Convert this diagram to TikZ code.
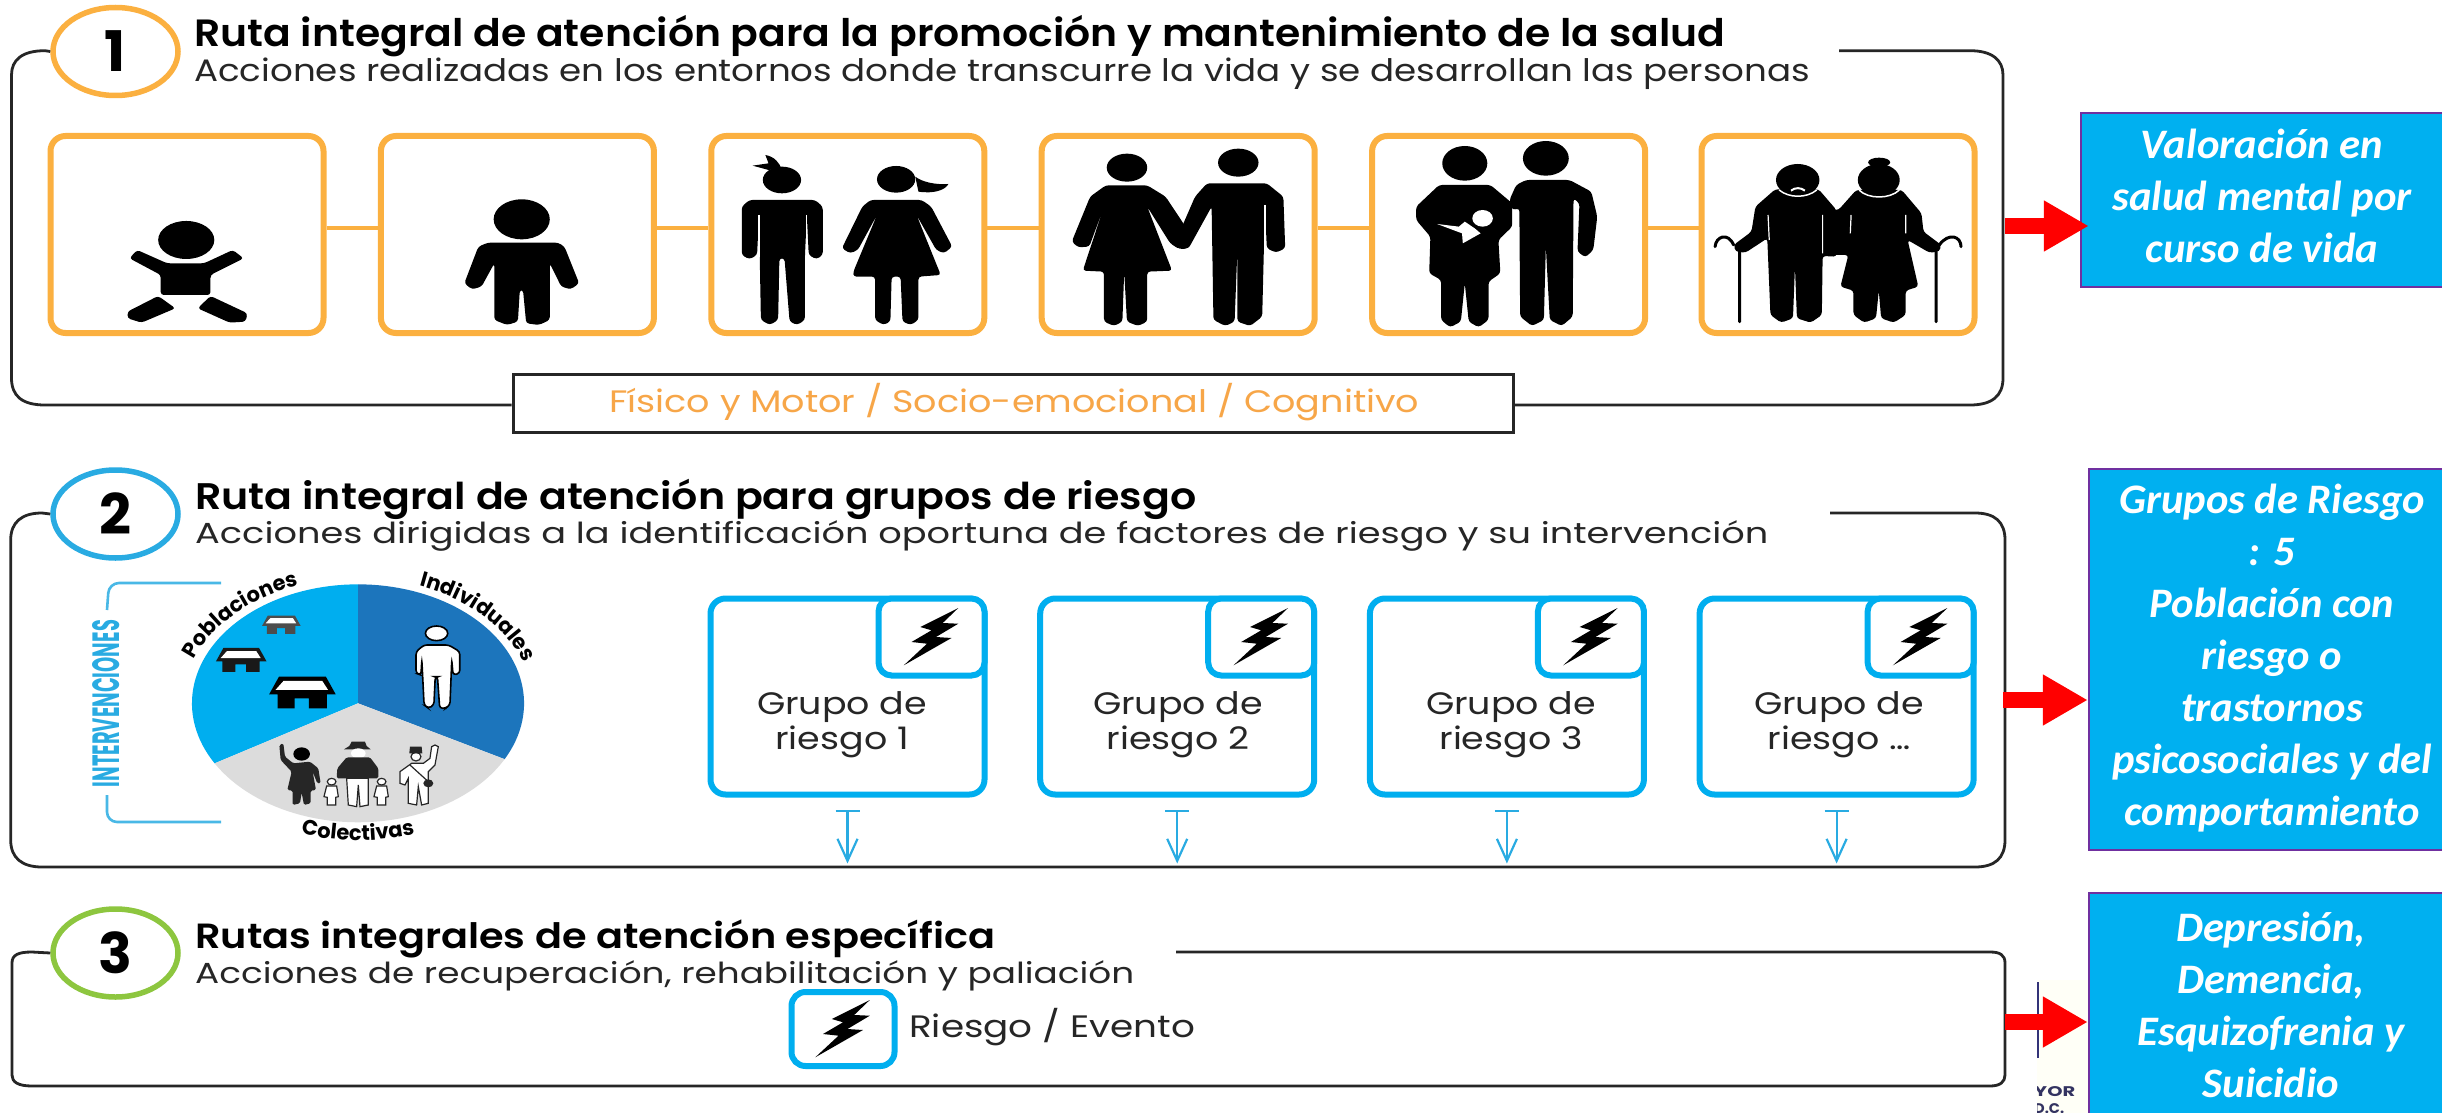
\documentclass[tikz,border=0pt]{standalone}
\usepackage{graphicx}
\usepackage{fontspec}
\setmainfont{Poppins}
\newfontfamily\medfam{Poppins SemiBold}
\newfontfamily\calfam{Carlito}
\usetikzlibrary{shapes.geometric,arrows.meta,decorations.text,calc}
\definecolor{orng}{HTML}{FBB040}
\definecolor{orngtx}{HTML}{F7A648}
\definecolor{cyanb}{HTML}{00AEEF}
\definecolor{cyanl}{HTML}{29ABE2}
\definecolor{deepb}{HTML}{1C75BC}
\definecolor{greyp}{HTML}{DCDCDC}
\definecolor{skybox}{HTML}{00B0F0}
\definecolor{purp}{HTML}{7030A0}
\definecolor{grn}{HTML}{8DC63F}
\definecolor{dk}{HTML}{262626}
\tikzset{
 frameline/.style={draw=dk,line width=2.8pt},
 numcirc/.style={shape=ellipse,draw,fill=white,line width=5.5pt,minimum width=125pt,minimum height=88pt,inner sep=0pt,font=\bfseries\fontsize{56}{60}\selectfont},
 lifebox/.style={draw=orng,fill=white,line width=6pt,rounded corners=15pt,minimum width=273pt,minimum height=197pt,inner sep=0pt},
 link/.style={draw=orng,line width=4pt},
 riskbox/.style={draw=cyanb,fill=white,line width=6pt,rounded corners=15pt,minimum width=274pt,minimum height=196pt,inner sep=0pt},
 cornerbox/.style={draw=cyanb,fill=white,line width=6pt,rounded corners=13pt,minimum width=106pt,minimum height=77pt,inner sep=0pt},
 tarrow/.style={draw=cyanl,line width=2.2pt,{Bar[width=24pt,line width=2.2pt]}-{Straight Barb[length=22pt,width=20pt,line width=2.2pt]}},
 redarrow/.style={draw=red,line width=16pt,-{Triangle[length=45pt,width=48pt]}},
 skynode/.style={draw=purp,fill=skybox,line width=2.5pt,inner sep=0pt,text=white,font=\calfam\bfseries\itshape\fontsize{42}{52}\selectfont},
 txt/.style={inner sep=0pt,anchor=base west},
 sil/.style={rounded corners=3pt},
 slit/.style={draw=white,line width=1.3pt},
 bracket/.style={draw=cyanl!85,line width=2.6pt,rounded corners=10pt},
 pielabel/.style={decorate,decoration={text along path,text align=center,text={#1}}}
}
\newcommand\fitline[6]{\node[txt,#6] (#1) at (#2,#4) {\resizebox{#3pt}{\height}{#5}};}
\newcommand\mybolt[1]{\fill[black,shift={(#1)}] (26.8,-29) -- (-11.2,-10) -- (0,-6.7) -- (-20,5) -- (-4.5,6.7) -- (-27.7,28.3) -- (20,1) -- (4.5,0) -- (26.8,-13.3) -- (11.2,-14) -- cycle;}
\newcommand\myhouse[4]{\begin{scope}[shift={(#1,#2)},scale=#3]
 \fill[#4] (-52,-45) -- (53,-45) -- (75,8) -- (-74,8) -- cycle (-55,8) -- (55,8) -- (55,50) -- (15,50) -- (15,20) -- (-17,20) -- (-17,50) -- (-55,50) -- cycle;
 \fill[white] (-42,-32) -- (45,-32) -- (58,-5) -- (-60,-5) -- cycle;
\end{scope}}
\begin{document}
\begin{tikzpicture}[x=1pt,y=-1pt]
\useasboundingbox (0,0) rectangle (2442,1113);
\fill[white] (0,0) rectangle (2442,1113);

% number circles
\node[numcirc,draw=orng] (c1) at (115.5,51.5) {1};
\node[numcirc,draw=cyanl] (c2) at (115.5,514) {2};
\node[numcirc,draw=grn] (c3) at (115.5,953) {3};

% caption box
\node[draw=dk,fill=white,line width=3pt,minimum width=1000pt,minimum height=58pt,inner sep=0pt] (phys) at (1013,403.5) {};

% frames
\coordinate (f1top) at (1839,50.7);
\coordinate (f2top) at (1830,513);
\coordinate (f3top) at (1176,952);
\draw[frameline] (c1.west) -- (45,50.7) .. controls (22,50.7) and (11.5,60) .. (11.5,75) -- (11.5,378) .. controls (11.5,396) and (22,405) .. (45,405) -- (phys.west |- 45,405);
\draw[frameline] (phys.east |- 45,405) -- (1970,405) .. controls (1992,405) and (2003,396) .. (2003,378) -- (2003,75) .. controls (2003,60) and (1992,50.7) .. (1970,50.7) -- (f1top);
\draw[frameline] (c2.west) -- (42,513) .. controls (22,513) and (10.7,522) .. (10.7,540) -- (10.7,840) .. controls (10.7,858) and (22,867) .. (42,867) -- (1975,867) .. controls (1995,867) and (2005,858) .. (2005,840) -- (2005,540) .. controls (2005,522) and (1995,513) .. (1975,513) -- (f2top);
\draw[frameline] (c3.west) -- (32,952) .. controls (18,952) and (12,955) .. (12,963) -- (12,1075) .. controls (12,1082) and (18,1086) .. (32,1086) -- (1990,1086) .. controls (2000,1086) and (2005,1082) .. (2005,1075) -- (2005,963) .. controls (2005,955) and (2000,952) .. (1990,952) -- (f3top);

% titles
\fitline{t1}{194}{1531}{47}{\medfam\fontsize{38}{40}\selectfont Ruta integral de atención para la promoción y mantenimiento de la salud}{}
\fitline{s1}{194}{1616}{82}{\fontsize{31}{34}\selectfont Acciones realizadas en los entornos donde transcurre la vida y se desarrollan las personas}{text=dk}
\fitline{t2}{195}{1001}{509}{\medfam\fontsize{37}{40}\selectfont Ruta integral de atención para grupos de riesgo}{}
\fitline{s2}{195}{1573}{543}{\fontsize{29}{34}\selectfont Acciones dirigidas a la identificación oportuna de factores de riesgo y su intervención}{text=dk}
\fitline{t3}{195}{800}{948}{\medfam\fontsize{35}{40}\selectfont Rutas integrales de atención específica}{}
\fitline{s3}{195}{939}{983}{\fontsize{29}{34}\selectfont Acciones de recuperación, rehabilitación y paliación}{text=dk}
\fitline{physt}{609}{810}{412}{\fontsize{31}{34}\selectfont Físico y Motor / Socio-emocional / Cognitivo}{text=orngtx}

% life-course boxes
\foreach \i/\cx in {1/187,2/517.4,3/847.8,4/1178.2,5/1508.6,6/1838}
  \node[lifebox] (o\i) at (\cx,234.5) {};
\foreach \a/\b in {1/2,2/3,3/4,4/5,5/6}
  \draw[link] ([yshift=6.5pt]o\a.east) -- ([yshift=6.5pt]o\b.west);

% figures, boxes 1-3
\begin{scope}[xscale=.6378,yscale=.3333]
 \fill (292,720) ellipse [x radius=44,y radius=57];
 \fill[sil] (215,750) -- (203,775) -- (252,825) -- (252,885) -- (330,885) -- (330,825) -- (382,775) -- (365,750) -- (320,790) -- (262,790) -- cycle;
 \fill[sil] (248,888) -- (275,925) -- (222,968) -- (200,955) -- (200,935) -- cycle;
 \fill[sil] (330,888) -- (388,940) -- (385,965) -- (360,968) -- (310,925) -- cycle;
 \fill (818,658) ellipse [x radius=44,y radius=60];
 \fill[sil] (765,728) -- (875,728) -- (885,740) -- (908,850) -- (895,868) -- (880,860) -- (862,790) -- (862,960) -- (845,975) -- (825,970) -- (820,870) -- (815,870) -- (812,965) -- (795,975) -- (775,960) -- (775,790) -- (755,860) -- (740,868) -- (728,850) -- (750,740) -- cycle;
 \fill (1226,540) ellipse [x radius=30,y radius=40];
 \fill (1200,465) .. controls (1215,470) and (1222,490) .. (1225,505) -- (1205,510) -- (1180,497) -- (1205,490) -- cycle;
 \fill[sil] (1175,600) -- (1278,600) -- (1290,620) -- (1290,765) -- (1280,778) -- (1268,765) -- (1265,645) -- (1262,770) -- (1262,960) -- (1250,975) -- (1238,965) -- (1230,775) -- (1222,775) -- (1220,960) -- (1207,975) -- (1193,960) -- (1190,645) -- (1187,765) -- (1175,778) -- (1163,765) -- (1163,620) -- cycle;
 \draw[slit] (1190,645) -- (1190,772) (1265,645) -- (1265,772);
 \fill (1405,538) ellipse [x radius=30,y radius=40];
 \fill (1435,530) .. controls (1445,545) and (1465,555) .. (1487,552) .. controls (1482,570) and (1465,582) .. (1440,575) -- cycle;
 \fill[sil] (1365,600) -- (1445,600) -- (1460,620) -- (1493,740) -- (1480,760) -- (1468,750) -- (1437,645) -- (1475,825) -- (1440,830) -- (1440,960) -- (1428,975) -- (1415,965) -- (1412,830) -- (1398,830) -- (1396,965) -- (1385,975) -- (1372,960) -- (1372,830) -- (1338,830) -- (1338,815) -- (1375,645) -- (1345,750) -- (1333,760) -- (1320,745) -- (1352,620) -- cycle;
\end{scope}
% couple
\begin{scope}[shift={(1000,0)},xscale=.92,yscale=.3333]
 \fill (138,503) ellipse [x radius=22,y radius=42];
 \fill[sil] (115,556) -- (160,556) -- (180,590) -- (210,715) -- (195,748) -- (185,730) -- (160,620) -- (187,812) -- (160,815) -- (160,965) -- (150,978) -- (138,965) -- (135,815) -- (133,965) -- (124,978) -- (113,965) -- (113,815) -- (90,812) -- (113,620) -- (97,740) -- (85,742) -- (78,725) -- (98,590) -- cycle;
 \fill (259,488) ellipse [x radius=22,y radius=42];
 \fill[sil] (225,550) -- (290,550) -- (308,590) -- (310,745) -- (300,758) -- (290,745) -- (288,615) -- (285,950) -- (272,978) -- (258,965) -- (258,750) -- (255,965) -- (245,978) -- (232,960) -- (230,620) -- (205,745) -- (195,748) -- (190,730) -- (212,590) -- cycle;
 \draw[slit] (288,615) -- (288,745);
\end{scope}
% family and elderly
\begin{scope}[shift={(1360,130)},xscale=.3954,yscale=.3333]
 \fill (265,100) ellipse [x radius=57,y radius=52];
 \fill[sil] (200,165) -- (330,165) -- (385,220) -- (385,290) -- (350,330) -- (355,430) -- (325,455) -- (325,570) -- (300,592) -- (275,575) -- (265,460) -- (255,575) -- (228,592) -- (205,570) -- (205,450) -- (175,430) -- (178,320) -- (142,270) -- (142,230) -- cycle;
 \fill[white] (310,265) ellipse [x radius=26,y radius=25];
 \fill[white] (195,282) -- (250,290) -- (265,275) -- (290,295) -- (305,310) -- (260,340) -- (258,310) -- cycle;
 \fill (470,85) ellipse [x radius=58,y radius=52];
 \fill[sil] (420,150) -- (530,150) -- (585,185) -- (600,260) -- (590,360) -- (570,382) -- (550,365) -- (555,220) -- (540,205) -- (538,560) -- (510,588) -- (480,570) -- (470,350) -- (465,570) -- (435,588) -- (405,560) -- (403,235) -- (385,240) -- (378,210) -- (395,165) -- cycle;
 % elderly man
 \fill[sil] (1050,178) -- (1160,178) -- (1205,240) -- (1205,380) -- (1170,378) -- (1168,555) -- (1140,578) -- (1105,565) -- (1100,410) -- (1095,565) -- (1065,578) -- (1038,555) -- (1030,325) -- (975,368) -- (950,365) -- (945,345) -- (990,305) -- (1000,230) -- cycle;
 \fill (1107,150) ellipse [x radius=55,y radius=48];
 \draw[white,line width=1.5pt] (1060,180) .. controls (1085,205) and (1130,205) .. (1155,180);
 \draw[white,line width=2pt] (1090,182) .. controls (1100,172) and (1115,172) .. (1125,182);
 \draw[white,line width=1.2pt] (1032,255) -- (1035,330) (1170,255) -- (1170,370);
 \draw[black,line width=3pt,line cap=round] (960,575) -- (960,365) (945,345) .. controls (930,305) and (900,320) .. (898,350);
 % elderly woman
 \fill[sil] (1255,180) -- (1370,180) -- (1420,250) -- (1425,305) -- (1470,345) -- (1465,365) -- (1440,368) -- (1385,330) -- (1412,470) -- (1380,482) -- (1380,555) -- (1350,578) -- (1318,565) -- (1312,482) -- (1305,565) -- (1275,578) -- (1248,555) -- (1248,482) -- (1215,470) -- (1235,375) -- (1180,375) -- (1175,240) -- (1210,240) -- cycle;
 \fill (1312,150) ellipse [x radius=53,y radius=48];
 \fill (1313,97) ellipse [x radius=28,y radius=14];
 \draw[white,line width=1.5pt] (1262,180) .. controls (1285,208) and (1340,208) .. (1364,180);
 \draw[white,line width=1.2pt] (1242,255) -- (1240,310) (1380,255) -- (1380,310);
 \draw[black,line width=3pt,line cap=round] (1457,575) -- (1457,365) (1465,345) .. controls (1490,305) and (1520,320) .. (1520,350);
\end{scope}

% pie
\begin{scope}[shift={(0,460)},xscale=.4464,yscale=.3333]
 \fill[cyanb] (802,730) -- plot[domain=149.7:270,samples=50,variable=\t] ({802+372*cos(\t)},{730+357*sin(\t)}) -- cycle;
 \fill[deepb] (802,730) -- plot[domain=270:388,samples=50,variable=\t] ({802+372*cos(\t)},{730+357*sin(\t)}) -- cycle;
 \fill[greyp] (802,730) -- plot[domain=28:149.7,samples=50,variable=\t] ({802+372*cos(\t)},{730+357*sin(\t)}) -- cycle;
 \myhouse{677}{695}{1}{black}
 \myhouse{540}{598}{.76}{black!90}
 \myhouse{630}{493}{.58}{black!70}
 \fill[white,draw=black,line width=1.6pt] (978,520) ellipse [x radius=25,y radius=22];
 \filldraw[fill=white,draw=black,line width=1.6pt,sil] (950,555) -- (1005,555) -- (1030,575) -- (1030,640) -- (1015,645) -- (1012,600) -- (1008,735) -- (998,745) -- (985,745) -- (980,650) -- (975,650) -- (972,735) -- (960,745) -- (950,735) -- (945,600) -- (943,645) -- (932,640) -- (932,575) -- cycle;
\end{scope}
\begin{scope}[shift={(190,700)},scale=.3333]
 \fill (335,162) ellipse [x radius=25,y radius=20];
 \fill[dk,rounded corners=1.5pt] (268,135) -- (280,130) -- (285,170) -- (310,190) -- (360,185) -- (385,205) -- (392,250) -- (382,250) -- (368,215) -- (378,270) -- (362,272) -- (362,310) -- (342,315) -- (335,278) -- (330,310) -- (308,315) -- (308,272) -- (292,270) -- (305,215) -- (272,180) -- cycle;
 \fill[dk] (485,125) -- (525,125) -- (530,138) -- (542,148) -- (462,148) -- (478,138) -- cycle;
 \fill[white] (505,160) ellipse [x radius=22,y radius=15];
 \fill[dk,rounded corners=1.5pt] (470,172) -- (540,172) -- (565,205) -- (565,235) -- (440,235) -- (442,205) -- cycle;
 \filldraw[fill=white,draw=dk,line width=1.2pt] (470,235) -- (535,235) -- (535,315) -- (510,320) -- (505,255) -- (500,320) -- (475,315) -- cycle;
 \foreach \kx in {0,150}{
  \filldraw[fill=white,draw=dk,line width=1.2pt,shift={(\kx,0)}] (425,245) ellipse [x radius=13,y radius=10];
  \filldraw[fill=white,draw=dk,line width=1.2pt,shift={(\kx,0)}] (410,258) -- (440,258) -- (445,290) -- (437,292) -- (437,315) -- (412,315) -- (412,292) -- (402,290) -- cycle;
 }
 \filldraw[fill=white,draw=dk,line width=1.2pt] (735,135) -- (745,140) -- (735,195) -- (715,215) -- (715,310) -- (695,315) -- (685,260) -- (680,315) -- (655,310) -- (655,235) -- (645,255) -- (630,250) -- (630,215) -- (665,190) -- (700,190) -- (720,175) -- (725,140) -- cycle;
 \filldraw[fill=white,draw=dk,line width=1.2pt] (678,170) ellipse [x radius=15,y radius=13];
 \fill[dk] (660,140) -- (695,140) -- (697,160) -- (658,160) -- cycle;
 \draw[dk,line width=1.2pt] (660,195) -- (715,245);
 \fill[dk] (715,250) ellipse [x radius=15,y radius=12];
\end{scope}
% pie labels
\path[pielabel={|\bfseries\fontsize{21}{22}\selectfont|Poblaciones}] plot[domain=190:258,samples=60,variable=\t] ({358+175*cos(\t)},{703.3+125.3*sin(\t)});
\path[pielabel={|\bfseries\fontsize{21}{22}\selectfont|Individuales}] plot[domain=283:351,samples=60,variable=\t] ({358+175*cos(\t)},{703.3+125.3*sin(\t)});
\path[pielabel={|\bfseries\fontsize{21}{22}\selectfont|Colectivas}] plot[domain=120:60,samples=60,variable=\t] ({358+187.5*cos(\t)},{703.3+137*sin(\t)});
% intervenciones
\node[inner sep=0pt,text=cyanl,rotate=90] (interv) at (106,703.5) {\resizebox{167pt}{27pt}{\bfseries INTERVENCIONES}};
\coordinate (br1) at (221,583);
\coordinate (br2) at (221,822);
\draw[bracket] (br1) -- (109,583) -- (107,610);
\draw[bracket] (107,795) -- (107,822) -- (br2);

% risk boxes
\foreach \i/\cx/\lx/\d in {1/847.5/842/1,2/1177.2/1178/2,3/1506.9/1511/3,4/1836.6/1839/{\dots}}{
  \node[riskbox] (g\i) at (\cx,696.5) {};
  \node[cornerbox,anchor=north east] (k\i) at (g\i.north east) {};
  \mybolt{k\i.center}
  \node[inner sep=0pt,text=dk] (gl\i) at (\lx,724.5) {\fontsize{31}{35}\selectfont\resizebox{170pt}{\height}{\begin{tabular}{@{}c@{}}Grupo de\\riesgo \d\end{tabular}}};
  \coordinate (tt\i) at ([yshift=-12pt]g\i.south);
  \coordinate (ta\i) at ([yshift=-66pt]g\i.south);
  \draw[tarrow] (tt\i) -- (ta\i);
}

% riesgo / evento
\node[cornerbox,minimum width=103pt,minimum height=74pt,rounded corners=14pt] (ev) at (843,1029) {};
\mybolt{ev.center}
\fitline{evt}{909}{286}{1037}{\fontsize{31}{34}\selectfont Riesgo / Evento}{text=dk}

% scan residue
\fill[white!97!yellow] (2037,980) rectangle (2089,1113);
\draw[draw=black!55!blue!60!gray,line width=2pt] (2038,982) -- (2038,1058);
\begin{scope}
 \clip (2037,1080) rectangle (2088,1113);
 \node[txt,text=black!70!blue!60!gray] (yor) at (2034,1096) {\resizebox{41pt}{\height}{\bfseries\fontsize{14}{16}\selectfont YOR}};
 \node[txt,text=black!70!blue!60!gray] (dc) at (2034,1113) {\resizebox{30pt}{\height}{\bfseries\fontsize{14}{16}\selectfont D.C.}};
\end{scope}

% blue boxes
\node[skynode,minimum width=362pt,minimum height=174pt] (v1) at (2262,200) {\raisebox{-7pt}{\resizebox{299pt}{\height}{\begin{tabular}{@{}c@{}}Valoración en\\salud mental por\\curso de vida\end{tabular}}}};
\node[skynode,minimum width=366pt,minimum height=381pt] (v2) at (2272,659.5) {\resizebox{320pt}{\height}{\begin{tabular}{@{}c@{}}Grupos de Riesgo\\: 5\\Población con\\riesgo o\\trastornos\\psicosociales y del\\comportamiento\end{tabular}}};
\node[skynode,minimum width=364pt,minimum height=232pt] (v3) at (2271,1009) {\raisebox{-5pt}{\resizebox{267pt}{\height}{\begin{tabular}{@{}c@{}}Depresión,\\Demencia,\\Esquizofrenia y\\Suicidio\end{tabular}}}};

% red arrows
\coordinate (e1) at (2005,226);
\coordinate (e2) at (2003,700);
\coordinate (e3) at (2005,1022);
\draw[redarrow,shorten >=-9pt] (e1) -- (e1 -| v1.west);
\draw[redarrow] (e2) -- (e2 -| v2.west);
\draw[redarrow] (e3) -- (e3 -| v3.west);
\end{tikzpicture}
\end{document}
